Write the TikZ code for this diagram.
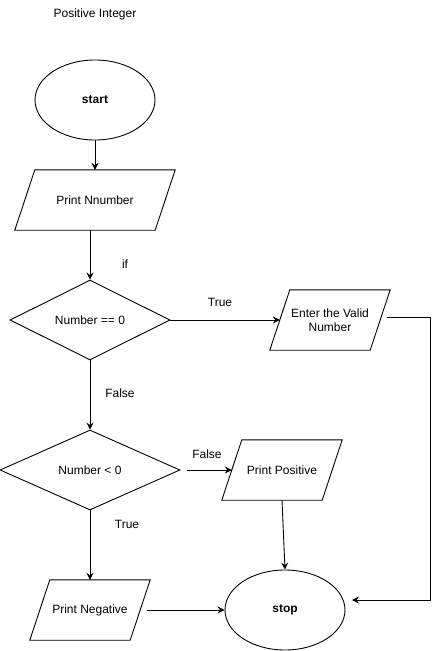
\documentclass[tikz,border=0pt]{standalone}
\usepackage{fontspec}
\setmainfont{Liberation Sans}
\usetikzlibrary{shapes.geometric,arrows.meta}
\begin{document}
\begin{tikzpicture}[x=1pt,y=-1pt,
  every node/.style={font=\fontsize{12}{14}\selectfont},
  term/.style={draw,line width=0.9pt,ellipse,minimum width=120pt,minimum height=80pt,inner sep=0pt,font=\fontsize{12}{14}\selectfont\bfseries},
  io/.style={rectangle,minimum width=#1,minimum height=60pt,inner sep=0pt,align=center},
  decision/.style={draw,line width=0.9pt,diamond,minimum width=160pt,minimum height=80pt,inner sep=0pt},
  arr/.style={draw,line width=0.9pt,-{Stealth[length=7pt,width=7pt,inset=2.5pt]}},
  lbl/.style={inner sep=0pt}]
\useasboundingbox (0,0) rectangle (439,651);
\node[lbl] (title) at (95,14) {Positive Integer};
\node[term] (start) at (95,100) {start};
\node[io=140pt] (pn) at (95,200) {Print Nnumber};
\node[decision] (d1) at (90,320) {Number == 0};
\node[io=100pt] (enter) at (330,320) {Enter the Valid\\Number};
\node[decision,minimum width=180pt] (d2) at (90,470) {Number < 0};
\node[io=100pt] (pp) at (282,470) {Print Positive};
\node[io=100pt] (pneg) at (90,610) {Print Negative};
\node[term] (stop) at (285,610) {stop};
\foreach \n in {pn,enter,pp,pneg}
  \draw[line width=0.9pt] ([xshift=10pt]\n.north west) -- ([xshift=10pt]\n.north east)
    -- ([xshift=-10pt]\n.south east) -- ([xshift=-10pt]\n.south west) -- cycle;
\coordinate (loopend) at (352,600);
\node[lbl] (lif) at (125,264) {if};
\node[lbl] (ltrue1) at (220,302) {True};
\node[lbl] (lfalse1) at (120,393) {False};
\node[lbl] (lfalse2) at (207,454) {False};
\node[lbl] (ltrue2) at (127,524) {True};
\draw[arr] (start) -- (pn);
\draw[arr] (d1.north |- pn.south) -- (d1.north);
\draw[arr] (d1.east) -- (enter.west);
\draw[arr] ([shift={(7pt,3pt)}]enter.east) -- ++(43,0) |- (loopend);
\draw[arr] (d1.south) -- (d2.north);
\draw[arr] ([xshift=7pt]d2.east) -- (pp.west);
\draw[arr] (pp.south) -- (stop.north);
\draw[arr] (d2.south) -- (pneg.north -| d2.south);
\draw[arr] ([xshift=7pt]pneg.east) -- (stop.west);
\end{tikzpicture}
\end{document}
